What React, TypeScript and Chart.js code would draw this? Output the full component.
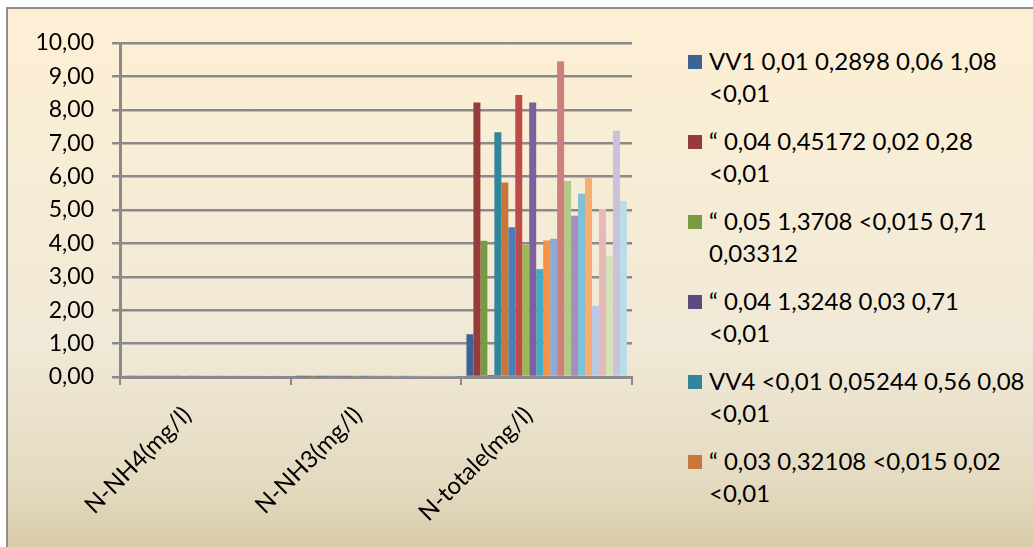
import React, { useEffect, useRef } from "react";
import { Chart, registerables } from "chart.js";

Chart.register(...registerables);

const categories = ["N-NH4(mg/l)", "N-NH3(mg/l)", "N-totale(mg/l)"];

const seriesNames = [
  "VV1 0,01 0,2898 0,06 1,08 <0,01",
  "\u201C 0,04 0,45172 0,02 0,28 <0,01",
  "\u201C 0,05 1,3708 <0,015 0,71 0,03312",
  "\u201C 0,04 1,3248 0,03 0,71 <0,01",
  "VV4 <0,01 0,05244 0,56 0,08 <0,01",
  "\u201C 0,03 0,32108 <0,015 0,02 <0,01",
  "Serie 7", "Serie 8", "Serie 9", "Serie 10", "Serie 11", "Serie 12",
  "Serie 13", "Serie 14", "Serie 15", "Serie 16", "Serie 17", "Serie 18",
  "Serie 19", "Serie 20", "Serie 21", "Serie 22", "Serie 23",
];

const legendShown = 6;

const nh4Values = [0.03, 0.03, 0.03, 0.03, 0.03, 0.03, 0.03, 0.03, 0.03, 0.03, 0.03, 0.03,
  0.03, 0.03, 0.03, 0.03, 0.03, 0.03, 0.03, 0.03, 0.03, 0.03, 0.03];
const nh3Values = [0.02, 0.02, 0.02, 0.02, 0.02, 0.02, 0.02, 0.02, 0.02, 0.02, 0.02, 0.02,
  0.02, 0.02, 0.02, 0.02, 0.02, 0.02, 0.02, 0.02, 0.02, 0.02, 0.02];
const totaleValues = [1.28, 8.22, 4.08, 0.06, 7.33, 5.82, 4.48, 8.44, 3.96, 8.22, 3.23, 4.09,
  4.14, 9.45, 5.87, 4.83, 5.49, 5.96, 2.13, 5.03, 3.63, 7.37, 5.27];

const seriesColors = [
  "#3D6296", "#953C3A", "#779A42", "#5D4A7E", "#31869C", "#C8773A",
  "#4A7EBB", "#BE4B48", "#98B954", "#7D60A0", "#46AAC5", "#F69240",
  "#8DA9D4", "#D07E7C", "#B2CA85", "#A28FC0", "#7EC2D7", "#F8AD72",
  "#B9C9E5", "#E6B9B8", "#D4E2BA", "#CCC1DA", "#B7DDE8",
];

const yTicks = [0, 1, 2, 3, 4, 5, 6, 7, 8, 9, 10];

const FONT = "Lato";
const GRID = "#8a8a8a";

export default function App() {
  const ref = useRef<HTMLCanvasElement | null>(null);

  useEffect(() => {
    if (!ref.current) return;
    const chart = new Chart(ref.current, {
      type: "bar",
      data: {
        labels: categories,
        datasets: seriesNames.map((name, i) => ({
          label: name,
          data: [nh4Values[i], nh3Values[i], totaleValues[i]],
          backgroundColor: seriesColors[i],
          borderWidth: 0,
          categoryPercentage: 0.94,
          barPercentage: 1,
        })),
      },
      options: {
        responsive: false,
        animation: false,
        layout: { padding: { top: 43, right: 48, left: 0, bottom: 0 } },
        plugins: { legend: { display: false }, tooltip: { enabled: false } },
        scales: {
          x: {
            grid: { drawOnChartArea: false, color: GRID, lineWidth: 2, tickLength: 8, offset: true },
            border: { color: GRID, width: 3 },
            ticks: {
              color: "#000",
              font: { family: FONT, size: 24 },
              minRotation: 45,
              maxRotation: 45,
              padding: 16,
              labelOffset: -18,
            },
            afterFit: (s: any) => { s.height = 170; },
          },
          y: {
            min: yTicks[0],
            max: yTicks[yTicks.length - 1],
            afterBuildTicks: (s: any) => { s.ticks = yTicks.map((v) => ({ value: v })); },
            grid: { color: GRID, lineWidth: 2.5, tickLength: 8 },
            border: { color: GRID, width: 3 },
            ticks: {
              color: "#000",
              font: { family: FONT, size: 23 },
              padding: 18,
              callback: (v: any) => Number(v).toFixed(2).replace(".", ","),
            },
            afterFit: (s: any) => { s.width = 120; },
          },
        },
      },
    });
    return () => chart.destroy();
  }, []);

  const legend = seriesNames.slice(0, legendShown).map((name, i) => {
    const idx = name.lastIndexOf(" ");
    return { l1: name.slice(0, idx), l2: name.slice(idx + 1), color: seriesColors[i] };
  });

  return (
    <div style={{ position: "absolute", left: 0, top: 0, width: 1033, height: 547, overflow: "hidden" }}>
      <div
        style={{
          position: "absolute", left: 6, top: 7, width: 1040, height: 560,
          borderLeft: "2px solid #8f8f8f", borderTop: "2px solid #8f8f8f",
          background: "linear-gradient(180deg, #FDEFD4 0%, #F6ECD6 35%, #F0E9D7 60%, #E4DAC0 85%, #D3C6A2 100%)",
        }}
      />
      <canvas ref={ref} width={680} height={547} style={{ position: "absolute", left: 0, top: 0, display: "block" }} />
      {legend.map((e, i) => (
        <div key={i} style={{ position: "absolute", left: 688, top: 45 + i * 80, fontFamily: FONT, fontSize: 24, color: "#000", lineHeight: "32px", whiteSpace: "nowrap" }}>
          <div style={{ position: "absolute", left: 0, top: 10, width: 14, height: 14, background: e.color }} />
          <div style={{ marginLeft: 21 }}>{e.l1}</div>
          <div style={{ marginLeft: 21 }}>{e.l2}</div>
        </div>
      ))}
    </div>
  );
}
